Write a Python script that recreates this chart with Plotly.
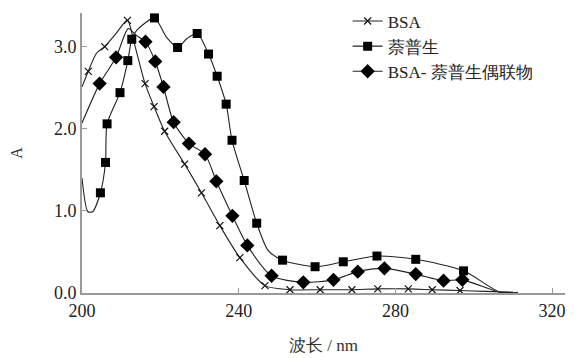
import plotly.graph_objects as go

# ---- data ----
series_names = ["BSA", "萘普生", "BSA- 萘普生偶联物"]

# BSA curve
bsa_line_x = [200, 201.6, 203.7, 205.8, 208.5, 211.6, 213.3, 216.1, 218.4, 221.1, 226.2, 230.5, 235.2, 240.3, 246.7,
              253.1, 260.8, 268.9, 275.5, 283.3, 289.4, 296.5, 303, 310]
bsa_line_y = [2.51, 2.70, 2.92, 3.00, 3.15, 3.32, 3.05, 2.55, 2.27, 1.97, 1.57, 1.22, 0.82, 0.43, 0.09,
              0.04, 0.04, 0.04, 0.05, 0.05, 0.04, 0.03, 0.02, 0.01]
bsa_mark_x = [201.6, 205.8, 211.6, 216.1, 218.4, 221.1, 226.2, 230.5, 235.2, 240.3, 246.7,
              253.1, 260.8, 268.9, 275.5, 283.3, 289.4, 296.5]
bsa_mark_y = [2.70, 3.00, 3.32, 2.55, 2.27, 1.97, 1.57, 1.22, 0.82, 0.43, 0.09,
              0.04, 0.04, 0.04, 0.05, 0.05, 0.04, 0.03]

# Naproxen curve
nap_line_x = [200, 201.5, 202.7, 204.7, 206.0, 206.4, 209.7, 211.7, 212.7, 214.0, 218.5, 221.5, 224.4, 226.8, 229.4,
              232.3, 234.5, 236.8, 238.3, 241.4, 244.6, 247.5, 251.2, 259.5, 266.7, 275.3, 285.2, 297.4, 306.7, 311.3]
nap_line_y = [1.40, 0.99, 0.99, 1.22, 1.59, 2.06, 2.44, 2.83, 3.09, 3.20, 3.35, 3.12, 2.99, 3.10, 3.16,
              2.91, 2.64, 2.30, 1.86, 1.37, 0.85, 0.52, 0.40, 0.32, 0.38, 0.45, 0.41, 0.27, 0.01, 0.01]
nap_mark_x = [204.7, 206.0, 206.4, 209.7, 211.7, 212.7, 218.5, 224.4, 229.4, 232.3, 234.5, 236.8, 238.3,
              241.4, 244.6, 251.2, 259.5, 266.7, 275.3, 285.2, 297.4]
nap_mark_y = [1.22, 1.59, 2.06, 2.44, 2.83, 3.09, 3.35, 2.99, 3.16, 2.91, 2.64, 2.30, 1.86,
              1.37, 0.85, 0.40, 0.32, 0.38, 0.45, 0.41, 0.27]

# BSA-naproxen conjugate curve
con_line_x = [200, 204.5, 208.7, 211.8, 213.8, 216.2, 218.7, 220.8, 223.4, 227.3, 231.4, 234.3, 238.4, 242.2,
              248.4, 256.5, 264.2, 270.4, 277.2, 285.2, 292.3, 297.1, 306.7, 310]
con_line_y = [2.07, 2.55, 2.87, 3.22, 3.14, 3.06, 2.82, 2.51, 2.08, 1.82, 1.69, 1.36, 0.94, 0.58,
              0.21, 0.13, 0.16, 0.26, 0.30, 0.23, 0.15, 0.16, 0.01, 0.01]
con_mark_x = [204.5, 208.7, 216.2, 218.7, 220.8, 223.4, 227.3, 231.4, 234.3, 238.4, 242.2,
              248.4, 256.5, 264.2, 270.4, 277.2, 285.2, 292.3, 297.1]
con_mark_y = [2.55, 2.87, 3.06, 2.82, 2.51, 2.08, 1.82, 1.69, 1.36, 0.94, 0.58,
              0.21, 0.13, 0.16, 0.26, 0.30, 0.23, 0.15, 0.16]

x_ticks = [200, 240, 280, 320]
y_ticks = [0.0, 1.0, 2.0, 3.0]

x_title = "波长 / nm"
y_title = "A"

# ---- styling ----
SERIF = "Liberation Serif"
LINE_C = "#222222"
AXIS_C = "#9a9a9a"

symbols = [
    dict(symbol="x-thin", size=7, line=dict(width=1.2, color="#111")),
    dict(symbol="square", size=9, color="#000"),
    dict(symbol="diamond", size=11, color="#000"),
]

lines = [(bsa_line_x, bsa_line_y), (nap_line_x, nap_line_y), (con_line_x, con_line_y)]
marks = [(bsa_mark_x, bsa_mark_y), (nap_mark_x, nap_mark_y), (con_mark_x, con_mark_y)]

fig = go.Figure()
for i, name in enumerate(series_names):
    lx, ly = lines[i]
    mx, my = marks[i]
    fig.add_trace(go.Scatter(x=lx, y=ly, mode="lines", line=dict(color=LINE_C, width=1.1, shape="spline", smoothing=0.7),
                             showlegend=False, hoverinfo="skip"))
    fig.add_trace(go.Scatter(x=mx, y=my, mode="markers", marker=symbols[i], showlegend=False))

for i, name in enumerate(series_names):
    fig.add_trace(go.Scatter(x=[None], y=[None], mode="lines+markers", name=name,
                             line=dict(color=LINE_C, width=1.1), marker=symbols[i]))

# page body has an 8px margin, so the figure is 8px smaller than the window
fig.update_layout(
    width=567, height=350,
    margin=dict(l=74, r=10, t=5, b=65, autoexpand=False),
    paper_bgcolor="white", plot_bgcolor="white",
    font=dict(family=SERIF, size=16, color="#222"),
    showlegend=True,
    legend=dict(x=0.55, y=1.034, xanchor="left", yanchor="top", bgcolor="rgba(0,0,0,0)",
                font=dict(family=SERIF, size=17, color="#222"), tracegroupgap=0, itemwidth=30),
    xaxis=dict(range=[200, 323.3], tickvals=x_ticks, ticktext=[str(v) for v in x_ticks],
               showgrid=False, zeroline=False, showline=True, linecolor=AXIS_C, linewidth=2,
               ticks="inside", ticklen=5, tickcolor=AXIS_C, tickwidth=1, automargin=False,
               tickfont=dict(family=SERIF, size=18, color="#222"),
               title=dict(text=x_title, font=dict(family=SERIF, size=17, color="#333"), standoff=20)),
    yaxis=dict(range=[0, 3.41], tickvals=y_ticks, ticktext=[f"{v:.1f}" for v in y_ticks],
               showgrid=False, zeroline=False, showline=True, linecolor=AXIS_C, linewidth=2,
               ticks="inside", ticklen=5, tickcolor=AXIS_C, tickwidth=1, automargin=False,
               tickfont=dict(family=SERIF, size=18, color="#222"),
               title=dict(text=y_title, font=dict(family=SERIF, size=16, color="#333"), standoff=36)),
)

fig.write_html("out.html")
